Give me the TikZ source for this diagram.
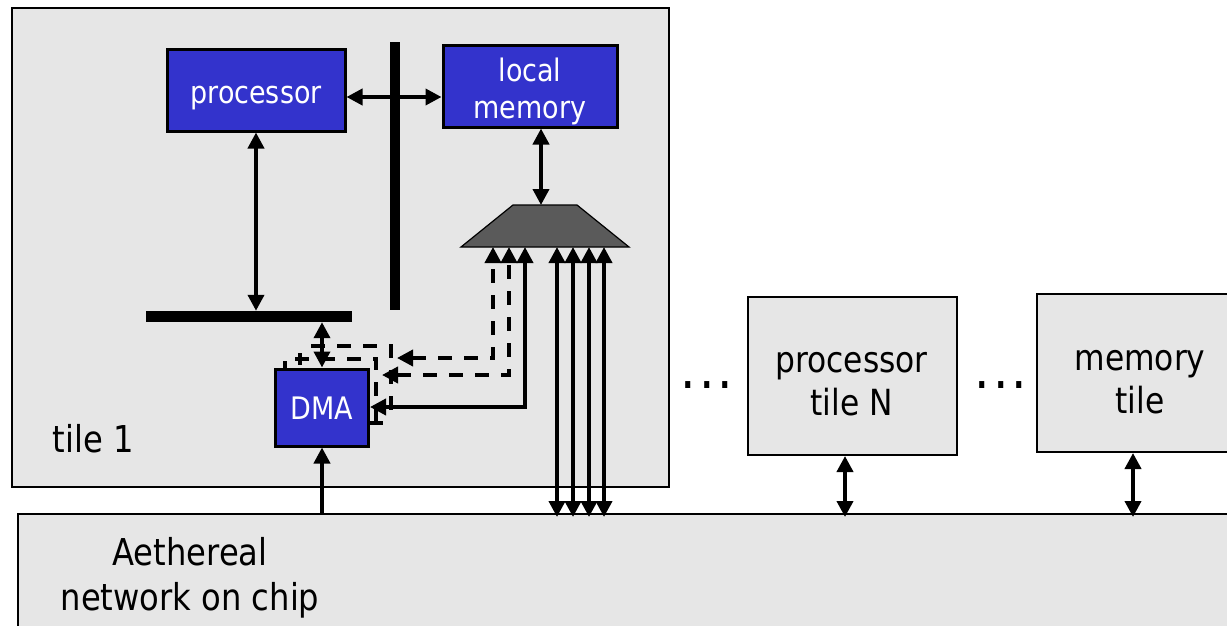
\documentclass[tikz,border=0pt]{standalone}
\usepackage{fontspec}
\setmainfont[FakeStretch=0.87]{DejaVu Sans}
\usetikzlibrary{arrows.meta,calc}
\definecolor{tilegray}{HTML}{E6E6E6}
\definecolor{boxblue}{HTML}{3333CC}
\definecolor{muxgray}{HTML}{5A5A5A}
\begin{document}
\begin{tikzpicture}[x=1pt,y=-1pt,
  >={Triangle[length=16pt,width=16pt]},
  tilebox/.style={draw=black,line width=2pt,fill=tilegray,inner sep=0pt},
  bluebox/.style={draw=black,line width=3pt,fill=boxblue,inner sep=0pt},
  graytext/.style={inner sep=0pt,font=\fontsize{36}{43}\selectfont,align=center},
  bluetext/.style={inner sep=0pt,text=white,font=\fontsize{31}{37}\selectfont,align=center},
  bar/.style={fill=black,draw=none,inner sep=0pt},
  link/.style={line width=3.8pt,<->},
  onelink/.style={line width=3.8pt,->},
  dlink/.style={line width=3.8pt,<->,dash pattern=on 14pt off 12pt},
  dashline/.style={line width=3.8pt,dash pattern=on 14pt off 12pt},
  tick/.style={line width=3.8pt},
  label/.style={inner sep=0pt,font=\fontsize{37}{45}\selectfont,align=center},
  dotstyle/.style={inner sep=0pt,anchor=base,font=\fontsize{56}{56}\selectfont}
]
\useasboundingbox (0,0) rectangle (1227,626);
\clip (0,0) rectangle (1227,626);
\fill[white] (0,0) rectangle (1227,626);

% containers
\node[tilebox,minimum width=657pt,minimum height=479pt] (tile1) at (340.5,247.5) {};
\node[tilebox,minimum width=1240pt,minimum height=140pt,anchor=north west] (noc) at (17,513) {};
\node[label] (noclabel) at (190,578) {Aethereal\\network on chip};
\node[label] (t1label) at (93,439) {tile 1};

% tile 1 contents
\node[bluebox,minimum width=178pt,minimum height=81pt] (proc) at (256,90.5) {};
\node[bluetext] (proctext) at ($(proc)+(0,8)$) {processor};
\node[bluebox,minimum width=174pt,minimum height=81pt] (lmem) at (530,86.5) {};
\node[bluetext] (lmemtext) at ($(lmem)+(0,5)$) {local\\memory};
\node[bluebox,minimum width=93pt,minimum height=77pt] (dma) at (322,407.5) {};
\node[bluetext] (dmatext) at ($(dma)+(0,1)$) {DMA};
\node[bar,minimum width=10pt,minimum height=268pt] (vbar) at (395,176) {};
\node[bar,minimum width=206pt,minimum height=11pt] (hbar) at (249,316.5) {};

% mux
\coordinate (mtl) at (513,205);
\coordinate (mtr) at (577,205);
\coordinate (mbr) at (629,247);
\coordinate (mbl) at (461,247);
\filldraw[fill=muxgray,draw=black,line width=1.2pt] (mbl) -- (mtl) -- (mtr) -- (mbr) -- cycle;
\coordinate (mux) at (541,205);

% connectors
\coordinate (busrow) at (0,97);
\draw[link] (proc.east |- busrow) -- (lmem.west |- busrow);
\draw[link] (proc.south) -- (proc.south |- hbar.north);
\draw[link] (lmem.south -| mux) -- (mux);
\draw[link] (hbar.south -| dma.north) -- (dma.north);
\draw[onelink] (noc.north -| dma.south) -- (dma.south);

\foreach \xx/\nm in {557/a,573/b,589/c,604/d}{
  \coordinate (m\nm) at (\xx,247);
  \draw[link] (m\nm) -- ($(noc.north -| m\nm)+(0,4)$);
}
\coordinate (m3) at (525,247);
\coordinate (r3) at (0,407);
\draw[link] (dma.east |- r3) -| (m3);

\coordinate (d1) at (493,247);
\coordinate (e1) at (397,358);
\draw[dlink] (e1) -| (d1);
\coordinate (d2) at (509,247);
\coordinate (e2) at (382,375);
\draw[dlink] (e2) -| (d2);

\draw[dashline] (311,346) -| (391,419);
\draw[dashline] (295,359) -| (376,429);
\draw[tick] (300,353) -- (300,365);
\draw[tick] (369,423) -- (383,423);
\draw[tick] (285,361) -- (285,369);

% other tiles
\node[tilebox,minimum width=209pt,minimum height=158pt] (ptile) at (852.5,376) {};
\node[graytext] (ptiletext) at ($(ptile)+(-1,8)$) {processor\\tile N};
\node[tilebox,minimum width=208pt,minimum height=158pt] (mtile) at (1141,373) {};
\node[graytext] (mtiletext) at ($(mtile)+(-1,9)$) {memory\\tile};
\coordinate (pcol) at (845,0);
\coordinate (mcol) at (1133,0);
\draw[link] (ptile.south -| pcol) -- ($(noc.north -| pcol)+(0,4)$);
\draw[link] (mtile.south -| mcol) -- ($(noc.north -| mcol)+(0,4)$);

\node[dotstyle] (dots1) at (707,388) {.\kern3pt.\kern3pt.};
\node[dotstyle] (dots2) at (1001,388) {.\kern3pt.\kern3pt.};
\end{tikzpicture}
\end{document}
